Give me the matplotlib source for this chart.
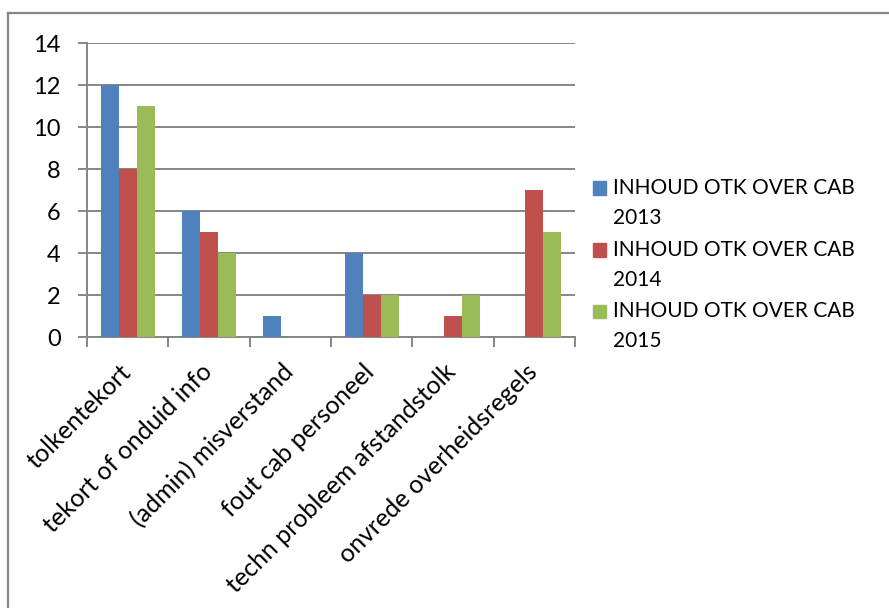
import matplotlib
matplotlib.use("Agg")
import matplotlib.pyplot as plt
import matplotlib.transforms as mtransforms
from matplotlib.lines import Line2D
from matplotlib.patches import Rectangle
import numpy as np

plt.rcParams['font.family'] = ['Lato', 'DejaVu Sans']

categories = ["tolkentekort", "tekort of onduid info", "(admin) misverstand",
              "fout cab personeel", "techn probleem afstandstolk",
              "onvrede overheidsregels"]
series_names = ["INHOUD OTK OVER CAB 2013", "INHOUD OTK OVER CAB 2014",
                "INHOUD OTK OVER CAB 2015"]
values_2013 = [12, 6, 1, 4, 0, 0]
values_2014 = [8, 5, 0, 2, 1, 7]
values_2015 = [11, 4, 0, 2, 2, 5]
y_ticks = [0, 2, 4, 6, 8, 10, 12, 14]

colors = ["#4F81BD", "#C0504D", "#9BBB59"]
grey = "#868686"

W, H = 889, 608
fig = plt.figure(figsize=(W / 100, H / 100), dpi=100)
ax = fig.add_axes([87 / W, 1 - 337 / H, (575 - 87) / W, (337 - 43) / H])

x = np.arange(len(categories))
bar_w = 1 / 4.5
for i, vals in enumerate([values_2013, values_2014, values_2015]):
    ax.bar(x + (i - 1) * bar_w, vals, width=bar_w, color=colors[i],
           zorder=3, linewidth=0)

ax.set_xlim(-0.5, len(categories) - 0.5)
ax.set_ylim(0, 14)
ax.set_yticks(y_ticks)
ax.set_yticklabels([str(v) for v in y_ticks], fontsize=17)
ax.yaxis.grid(True, color=grey, linewidth=1.4, zorder=0)

# category boundaries carry the tick marks
ax.set_xticks(np.arange(len(categories) + 1) - 0.5)
ax.set_xticklabels([])
ax.tick_params(axis="x", which="major", length=7, width=1.4, color=grey,
               direction="out")
ax.tick_params(axis="y", length=6.5, width=1.4, color=grey, pad=12.5)

# rotated category names, ending near each category centre
label_tr = ax.get_xaxis_transform() + mtransforms.ScaledTranslation(
    -9 / 100, -23 / 100, fig.dpi_scale_trans)
for xi, name in zip(x, categories):
    ax.text(xi, 0, name, transform=label_tr, rotation=45,
            rotation_mode="anchor", ha="right", va="top", fontsize=18,
            clip_on=False)

for s in ["top", "right"]:
    ax.spines[s].set_visible(False)
for s in ["left", "bottom"]:
    ax.spines[s].set_color(grey)
    ax.spines[s].set_linewidth(1.4)

# legend drawn as swatches with two-line labels
leg_y = [188, 250, 311]
for name, c, yy in zip(series_names, colors, leg_y):
    fig.patches.append(Rectangle((593 / W, 1 - (yy + 6.5) / H), 13 / W, 13 / H,
                                 transform=fig.transFigure, color=c))
    head, year = name.rsplit(" ", 1)
    fig.text(613 / W, 1 - yy / H, head, fontsize=15, va="center", ha="left")
    fig.text(613 / W, 1 - (yy + 30) / H, year, fontsize=15, va="center", ha="left")

# chart area frame
fig.add_artist(Line2D([8 / W, 1], [1 - 13 / H, 1 - 13 / H],
                      transform=fig.transFigure, color=grey, linewidth=1.6))
fig.add_artist(Line2D([8 / W, 8 / W], [0, 1 - 13 / H],
                      transform=fig.transFigure, color=grey, linewidth=1.6))

fig.savefig("out.png", dpi=100, facecolor="white")
